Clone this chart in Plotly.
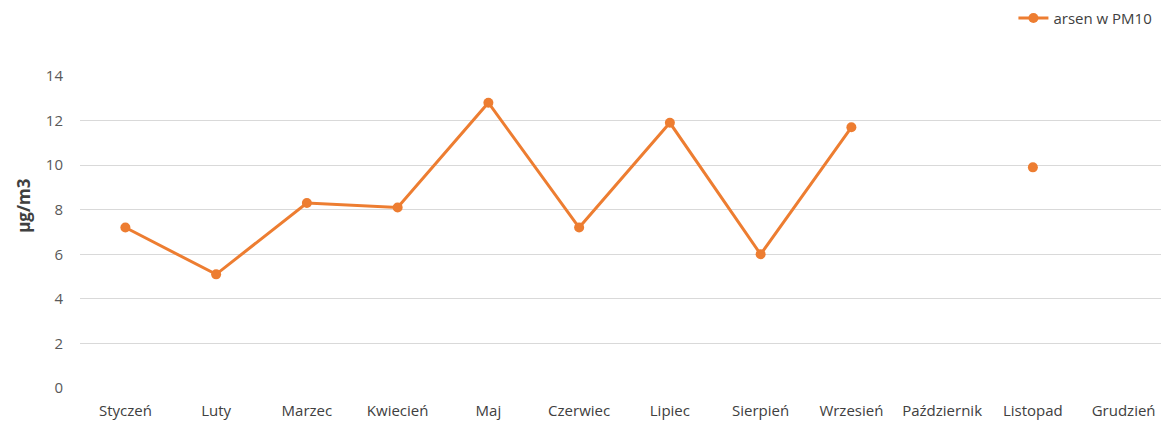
import plotly.graph_objects as go

# miesiace i stezenia arsenu w PM10
miesiace = ["Styczeń", "Luty", "Marzec", "Kwiecień", "Maj", "Czerwiec",
            "Lipiec", "Sierpień", "Wrzesień", "Październik", "Listopad", "Grudzień"]
arsen = [7.2, 5.1, 8.3, 8.1, 12.8, 7.2, 11.9, 6.0, 11.7, None, 9.9, None]

y_ticks = [0, 2, 4, 6, 8, 10, 12, 14]

fig = go.Figure()

fig.add_trace(go.Scatter(
    x=miesiace, y=arsen, name="arsen w PM10",
    mode="lines+markers",
    line=dict(color="#ED7D31", width=3),
    marker=dict(color="#ED7D31", size=10),
    connectgaps=False,
))

fig.update_layout(
    width=1161, height=413,
    margin=dict(l=72, r=0, t=68, b=33, autoexpand=False),
    paper_bgcolor="white", plot_bgcolor="white",
    font=dict(family="Open Sans, Liberation Sans, sans-serif", size=14, color="#595959"),
    showlegend=True,
    legend=dict(xref="container", yref="container", x=0.866, xanchor="left",
                y=0.975, yanchor="middle",
                font=dict(size=15, color="#404040"), bgcolor="rgba(0,0,0,0)"),
)

fig.update_xaxes(
    type="category", range=[-0.5, 11.5], tickangle=0, automargin=False,
    showgrid=False, showline=False, ticks="", zeroline=False, ticklabelstandoff=12,
    tickfont=dict(size=15, color="#404040"),
)

fig.update_yaxes(
    range=[0, 14], tickvals=y_ticks, automargin=False,
    showgrid=True, gridcolor="#d9d9d9", gridwidth=1,
    zeroline=False, showline=False, ticks="", ticklabelstandoff=16,
    tickfont=dict(size=15, color="#595959"),
)

# tytul osi Y (w oryginale lekko przesuniety w gore)
fig.add_annotation(
    text="<b>µg/m3</b>", textangle=-90,
    xref="paper", yref="paper", x=-0.052, y=0.585,
    xanchor="center", yanchor="middle", showarrow=False,
    font=dict(size=17, color="#404040"),
)

fig.write_html("out.html")
